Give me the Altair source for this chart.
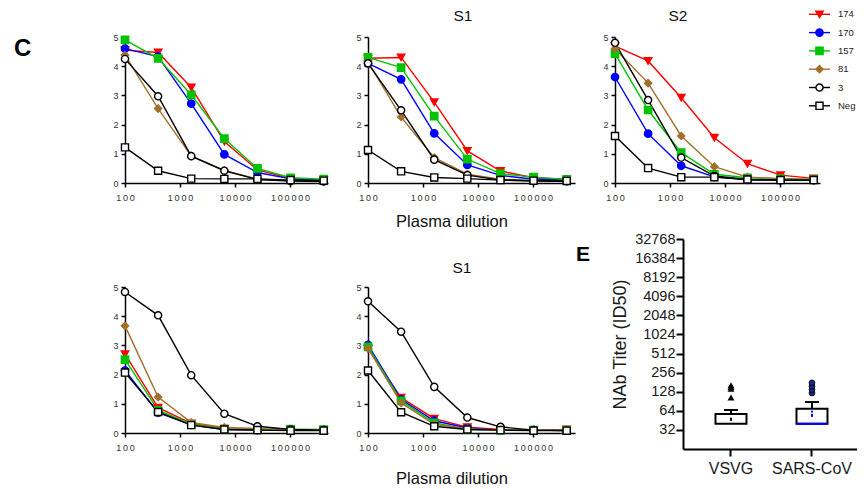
import altair as alt
import pandas as pd

FONT = "Liberation Sans"

# ---------------- data ----------------
DILUTIONS = [100, 400, 1600, 6400, 25600, 102400, 409600]
X_TICKS = [100, 1000, 10000, 100000]
Y_TICKS = [0, 1, 2, 3, 4, 5]
SERIES = ["174", "170", "157", "81", "3", "Neg"]
LINE_COLORS = ["#ff0000", "#0000ff", "#00c400", "#a36f2c", "#000000", "#000000"]
FILL_COLORS = ["#ff0000", "#0000ff", "#00c400", "#a36f2c", "#ffffff", "#ffffff"]
SHAPES = ["triangle-down", "circle", "square", "diamond", "circle", "square"]
SIZES = [55, 50, 45, 30, 38, 18]

# each panel: one row per series, in SERIES order
TOP_FULL = [
    [4.55, 4.47, 3.27, 1.42, 0.45, 0.15, 0.10],
    [4.60, 4.33, 2.72, 0.98, 0.36, 0.14, 0.10],
    [4.90, 4.27, 3.02, 1.52, 0.50, 0.18, 0.13],
    [4.38, 2.55, 0.93, 0.43, 0.13, 0.08, 0.06],
    [4.25, 2.97, 0.92, 0.42, 0.12, 0.07, 0.05],
    [1.22, 0.42, 0.15, 0.14, 0.14, 0.10, 0.08],
]
TOP_S1 = [
    [4.27, 4.30, 2.77, 1.10, 0.41, 0.18, 0.12],
    [4.10, 3.55, 1.70, 0.62, 0.26, 0.13, 0.12],
    [4.30, 3.95, 2.29, 0.82, 0.32, 0.20, 0.12],
    [4.15, 2.26, 0.87, 0.30, 0.13, 0.08, 0.07],
    [4.10, 2.49, 0.80, 0.27, 0.10, 0.07, 0.06],
    [1.13, 0.40, 0.19, 0.15, 0.10, 0.08, 0.07],
]
TOP_S2 = [
    [4.69, 4.18, 2.92, 1.55, 0.66, 0.27, 0.16],
    [3.63, 1.69, 0.59, 0.21, 0.11, 0.10, 0.10],
    [4.43, 2.50, 1.04, 0.30, 0.18, 0.15, 0.12],
    [4.60, 3.42, 1.61, 0.56, 0.20, 0.15, 0.12],
    [4.80, 2.84, 0.87, 0.24, 0.12, 0.10, 0.10],
    [1.61, 0.51, 0.20, 0.20, 0.12, 0.10, 0.10],
]
BOT_FULL = [
    [2.70, 0.87, 0.33, 0.15, 0.12, 0.10, 0.10],
    [2.14, 0.70, 0.28, 0.12, 0.10, 0.10, 0.10],
    [2.51, 0.78, 0.30, 0.13, 0.12, 0.13, 0.12],
    [3.67, 1.23, 0.36, 0.19, 0.15, 0.12, 0.10],
    [4.83, 4.03, 1.98, 0.66, 0.23, 0.12, 0.10],
    [2.07, 0.72, 0.27, 0.12, 0.10, 0.08, 0.08],
]
BOT_S1 = [
    [2.88, 1.21, 0.49, 0.20, 0.12, 0.10, 0.12],
    [3.02, 1.15, 0.42, 0.17, 0.10, 0.10, 0.08],
    [2.95, 1.10, 0.35, 0.12, 0.10, 0.10, 0.10],
    [2.90, 1.03, 0.30, 0.15, 0.10, 0.10, 0.10],
    [4.51, 3.47, 1.58, 0.53, 0.21, 0.10, 0.08],
    [2.14, 0.71, 0.23, 0.12, 0.10, 0.08, 0.08],
]

E_CATEGORIES = ["VSVG", "SARS-CoV"]
E_Q1 = [40, 40]
E_MEDIAN = [40, 40]
E_Q3 = [57, 69]
E_WHISK_HI = [66, 88]
E_OUT_VSVG = [104, 142, 152, 162]
E_OUT_SARS = [122, 138, 156, 177]
E_PTS_VSVG = [48, 46]
E_PTS_SARS = [62, 55, 53]
E_TICKS = [32, 64, 128, 256, 512, 1024, 2048, 4096, 8192, 16384, 32768]

# ---------------- shared scales ----------------
stroke_scale = alt.Scale(domain=SERIES, range=LINE_COLORS)
fill_scale = alt.Scale(domain=SERIES, range=FILL_COLORS)
shape_scale = alt.Scale(domain=SERIES, range=SHAPES)
size_scale = alt.Scale(domain=SERIES, range=SIZES)

PH = 146
PX_PER_DECADE = 55
SPACED = "join(split(datum.label, ''), '\u2009')"


def label(text, x, y, size, weight="normal", align="center", color="#111111"):
    return alt.Chart(pd.DataFrame({"t": [text]})).mark_text(
        font=FONT, fontSize=size, fontWeight=weight, align=align,
        baseline="alphabetic", color=color).encode(
        text="t:N", x=alt.value(x), y=alt.value(y))


def c_panel(values, width):
    rows = []
    for s, vals in zip(SERIES, values):
        for d, v in zip(DILUTIONS, vals):
            rows.append({"dilution": d, "value": v, "series": s})
    df = pd.DataFrame(rows)
    xmax = 100 * 10 ** (width / PX_PER_DECADE)
    x = alt.X("dilution:Q", title=None,
              scale=alt.Scale(type="log", domain=[100, xmax], nice=False),
              axis=alt.Axis(values=X_TICKS, format="d", labelExpr=SPACED, labelFont=FONT,
                            labelFontSize=9, labelColor="#333333", labelPadding=6,
                            labelFlush=False, labelOverlap=False, tickSize=4,
                            tickWidth=1.5, tickColor="black", domainColor="black",
                            domainWidth=1.5, grid=False))
    y = alt.Y("value:Q", title=None,
              scale=alt.Scale(domain=[0, 5], nice=False),
              axis=alt.Axis(values=Y_TICKS, labelFont=FONT, labelFontSize=9,
                            labelColor="#333333", labelPadding=3, labelFlush=False,
                            tickSize=4, tickWidth=1.5, tickColor="black",
                            domainColor="black", domainWidth=1.5, grid=False))
    base = alt.Chart(df).encode(x=x, y=y)
    lines = base.mark_line(strokeWidth=1.4).encode(
        stroke=alt.Stroke("series:N", scale=stroke_scale, legend=None))
    pts = base.mark_point(opacity=1, strokeWidth=1.4).encode(
        shape=alt.Shape("series:N", scale=shape_scale, legend=None),
        fill=alt.Fill("series:N", scale=fill_scale, legend=None),
        stroke=alt.Stroke("series:N", scale=stroke_scale, legend=None),
        size=alt.Size("series:N", scale=size_scale, legend=None))
    return alt.layer(lines, pts)


W_A, W_B, W_C = 203, 207, 205

p1t = alt.layer(c_panel(TOP_FULL, W_A),
                label("C", -111, 19, 24, weight="bold", align="left", color="black")
                ).properties(width=W_A, height=PH)
p2t = alt.layer(c_panel(TOP_S1, W_B),
                label("S1", 95, -16, 15.5),
                label("Plasma dilution", 84, 190, 16.5)
                ).properties(width=W_B, height=PH)

# legend drawn beside the S2 panel
leg_df = pd.DataFrame({"series": SERIES, "label": SERIES})
leg_y = alt.Y("series:N", axis=None,
              scale=alt.Scale(type="point", domain=SERIES,
                              range=[-22.7, 68.8], padding=0))
leg_base = alt.Chart(leg_df).encode(y=leg_y)
leg_rule = leg_base.mark_rule(strokeWidth=1.4).encode(
    x=alt.value(194), x2=alt.value(215),
    stroke=alt.Stroke("series:N", scale=stroke_scale, legend=None))
leg_pts = leg_base.mark_point(opacity=1, strokeWidth=1.4).encode(
    x=alt.value(204.5),
    shape=alt.Shape("series:N", scale=shape_scale, legend=None),
    fill=alt.Fill("series:N", scale=fill_scale, legend=None),
    stroke=alt.Stroke("series:N", scale=stroke_scale, legend=None),
    size=alt.Size("series:N", scale=size_scale, legend=None))
leg_txt = leg_base.mark_text(font=FONT, fontSize=9.5, align="left",
                             baseline="middle", color="#222222").encode(
    x=alt.value(223), text="label:N")

p3t = alt.layer(c_panel(TOP_S2, W_C), leg_rule, leg_pts, leg_txt,
                label("S2", 63, -16, 15.5)).resolve_scale(
    y="independent").properties(width=W_C, height=PH)

p1b = c_panel(BOT_FULL, W_A).properties(width=W_A, height=PH)
p2b = alt.layer(c_panel(BOT_S1, W_B),
                label("S1", 94, -14, 15.5),
                label("Plasma dilution", 84, 197, 16.5)
                ).properties(width=W_B, height=PH)

# ---------------- panel E ----------------
# panel E sits in the grid cell below S2; its axes are shifted right / up
E_LEFT, E_RIGHT = 68, 251      # x-range inside the cell
E_TOP, E_H = -48, 162          # y-range inside the cell (cell height = E_H)

e_box = pd.DataFrame({"cat": E_CATEGORIES, "q1": E_Q1, "med": E_MEDIAN,
                      "q3": E_Q3, "hi": E_WHISK_HI})
e_out_v = pd.DataFrame({"cat": ["VSVG"] * len(E_OUT_VSVG), "v": E_OUT_VSVG})
e_out_s = pd.DataFrame({"cat": ["SARS-CoV"] * len(E_OUT_SARS), "v": E_OUT_SARS})
e_pts_v = pd.DataFrame({"cat": ["VSVG"] * len(E_PTS_VSVG), "v": E_PTS_VSVG})
e_pts_s = pd.DataFrame({"cat": ["SARS-CoV"] * len(E_PTS_SARS), "v": E_PTS_SARS})

e_x = alt.X("cat:N", title=None,
            scale=alt.Scale(domain=E_CATEGORIES, paddingInner=0.5, paddingOuter=0.3796,
                            align=0.451, range=[E_LEFT, E_RIGHT]),
            axis=alt.Axis(labelAngle=0, labelFont=FONT, labelFontSize=16,
                          labelColor="#1a1a1a", labelPadding=4, tickSize=7,
                          tickWidth=2, tickColor="black", domainColor="black",
                          domainWidth=2, grid=False))
e_scale = alt.Scale(type="log", base=2, domain=[16, 32768], nice=False,
                    range=[E_H, E_TOP])
e_axis = alt.Axis(values=E_TICKS, format="d", labelFont=FONT, labelFontSize=14.5,
                  labelColor="#1a1a1a", labelPadding=1, labelFlush=False,
                  labelOverlap=False, tickSize=7, tickWidth=2, tickColor="black",
                  domainColor="black", domainWidth=2, grid=False, offset=-E_LEFT,
                  titleFont=FONT, titleFontSize=18, titleFontWeight="normal",
                  titleColor="#1a1a1a", titlePadding=5)
E_YTITLE = "NAb Titer (ID50)"


def ey(field):
    return alt.Y(field, title=E_YTITLE, scale=e_scale, axis=e_axis)


bars = alt.Chart(e_box).mark_bar(size=31, fill="white", stroke="black",
                                 strokeWidth=2, opacity=1).encode(
    x=e_x, y=ey("q1:Q"), y2="q3:Q")
whisk = alt.Chart(e_box).mark_rule(color="black", strokeWidth=2).encode(
    x=e_x, y=ey("q3:Q"), y2="hi:Q")
cap = alt.Chart(e_box).mark_tick(color="black", thickness=2, size=14, opacity=1).encode(
    x=e_x, y=ey("hi:Q"))
med_s = alt.Chart(e_box.iloc[[1]]).mark_tick(color="#0000ff", thickness=2, size=31,
                                             opacity=1).encode(x=e_x, y=ey("med:Q"))
out_v = alt.Chart(e_out_v).mark_point(filled=True, opacity=1, size=48, shape="triangle-up",
                                      color="black").encode(x=e_x, y=ey("v:Q"))
out_s = alt.Chart(e_out_s).mark_point(filled=True, opacity=1, size=34, shape="circle",
                                      fill="#1c2a8c", stroke="black",
                                      strokeWidth=0.8).encode(x=e_x, y=ey("v:Q"))
dots_v = alt.Chart(e_pts_v).mark_point(filled=True, opacity=1, size=5,
                                       color="black").encode(x=e_x, y=ey("v:Q"))
dots_s = alt.Chart(e_pts_s).mark_point(filled=True, opacity=1, size=5,
                                       color="#0000ff").encode(x=e_x, y=ey("v:Q"))

pE = alt.layer(bars, whisk, cap, med_s, out_v, out_s, dots_v, dots_s,
               label("E", -39, -26, 21, weight="bold", align="left", color="black")
               ).properties(width=E_RIGHT, height=E_H)

chart = alt.concat(p1t, p2t, p3t, p1b, p2b, pE, columns=3,
                   spacing={"row": 104, "column": 40}, bounds="flush").properties(
    padding={"left": 6, "top": 0, "right": -9, "bottom": 0},
    background="white",
).configure(font=FONT).configure_view(stroke=None)

chart.save("out.html", embed_options={"renderer": "svg", "actions": False})
